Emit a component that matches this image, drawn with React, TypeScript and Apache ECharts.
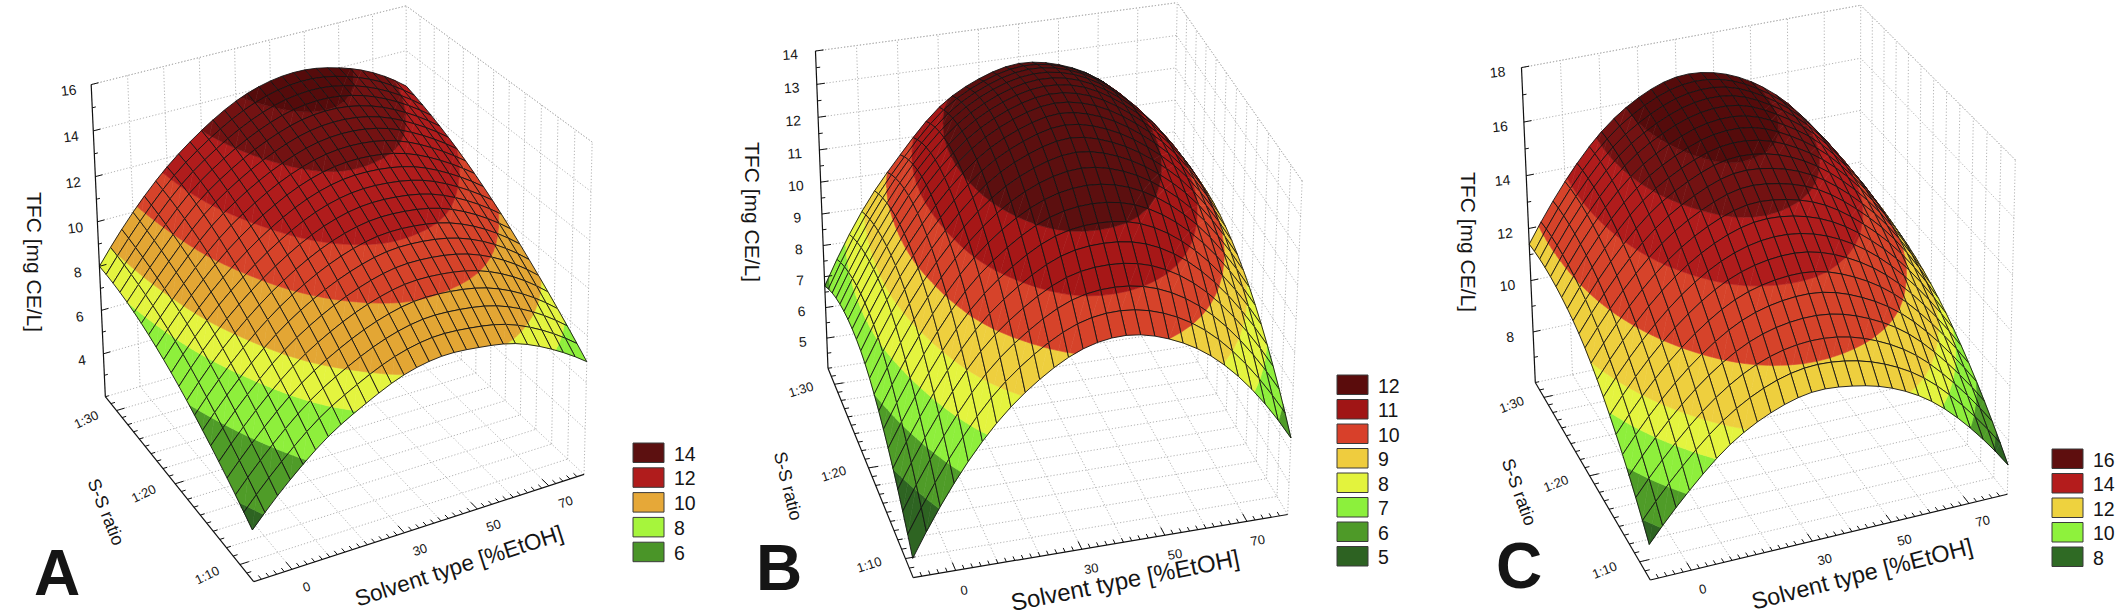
import React, { useEffect, useRef } from "react";
import * as echarts from "echarts";

const CHART_W = 2122;
const CHART_H = 616;
const FONT = "'Liberation Sans', Arial, Helvetica, sans-serif";

// ---------------- data ----------------
const solventLevels = [-10, 0, 10, 20, 30, 40, 50, 60, 70, 80];
const ratioLevels = [8, 14, 20, 26, 32];
const solventTickValues = [0, 30, 50, 70];
const solventTickLabels = ["0", "30", "50", "70"];
const ratioTickValues = [10, 20, 30];
const ratioTickLabels = ["1:10", "1:20", "1:30"];

// TFC readings, rows follow ratioLevels, columns follow solventLevels
const tfcA = [
  [4.2, 5.8, 7.1, 8.0, 8.7, 9.0, 8.9, 8.6, 7.9, 6.9],
  [5.7, 7.4, 8.8, 9.8, 10.5, 10.9, 10.9, 10.6, 9.9, 8.8],
  [6.9, 8.7, 10.1, 11.2, 12.0, 12.4, 12.4, 12.1, 11.4, 10.4],
  [7.7, 9.5, 11.1, 12.2, 13.0, 13.5, 13.6, 13.3, 12.6, 11.6],
  [8.0, 10.0, 11.6, 12.8, 13.7, 14.2, 14.3, 14.0, 13.4, 12.4],
];
const tfcB = [
  [4.6, 6.7, 8.3, 9.4, 10.1, 10.3, 10.0, 9.3, 8.1, 6.4],
  [6.3, 8.4, 10.1, 11.2, 11.9, 12.1, 11.9, 11.2, 10.0, 8.3],
  [7.3, 9.4, 11.0, 12.2, 12.9, 13.2, 12.9, 12.2, 11.1, 9.4],
  [7.4, 9.5, 11.2, 12.4, 13.1, 13.4, 13.2, 12.5, 11.4, 9.7],
  [6.7, 8.9, 10.5, 11.8, 12.5, 12.8, 12.6, 12.0, 10.8, 9.2],
];
const tfcC = [
  [7.3, 8.9, 10.2, 11.0, 11.4, 11.3, 10.9, 10.1, 8.8, 7.1],
  [9.4, 11.1, 12.4, 13.3, 13.7, 13.7, 13.2, 12.3, 10.9, 9.1],
  [10.8, 12.6, 14.0, 14.9, 15.4, 15.3, 14.8, 13.8, 12.4, 10.4],
  [11.4, 13.4, 14.9, 15.8, 16.3, 16.3, 15.7, 14.7, 13.1, 11.0],
  [11.4, 13.5, 15.1, 16.1, 16.6, 16.5, 15.9, 14.8, 13.1, 10.9],
];

const tfcTicksA = [4, 6, 8, 10, 12, 14, 16];
const tfcTicksB = [5, 6, 7, 8, 9, 10, 11, 12, 13, 14];
const tfcTicksC = [8, 10, 12, 14, 16, 18];

const legendLabelsA = ["14", "12", "10", "8", "6"];
const legendLabelsB = ["12", "11", "10", "9", "8", "7", "6", "5"];
const legendLabelsC = ["16", "14", "12", "10", "8"];

// contour band lower limits (first band is everything below the first limit)
const bandFromA = [4.7, 6.4, 7.8, 8.7, 10.2, 11.4, 12.8, 13.8];
const bandFromB = [6, 7, 8, 9, 10, 11, 12];
const bandFromC = [7.8, 8.8, 9.8, 10.6, 12.0, 13.6, 14.9, 15.8];

// ---------------- styles ----------------
const MAROON = "#5c0f0f";
const MAROON_D = "#550b0b";
const MAROON_L = "#731212";
const DKRED = "#a61717";
const RED = "#b01c1c";
const REDOR = "#d6432a";
const ORANGE = "#e3a634";
const GOLD = "#eecf3e";
const YELLOW = "#e4f43f";
const LGREEN = "#8eef3c";
const GREEN = "#4f9c28";
const DGREEN = "#2e6422";

const bandColorsA = [DGREEN, GREEN, LGREEN, YELLOW, ORANGE, REDOR, RED, MAROON_L, MAROON_D];
const bandColorsB = [DGREEN, GREEN, LGREEN, YELLOW, GOLD, REDOR, DKRED, MAROON];
const bandColorsC = [DGREEN, GREEN, LGREEN, YELLOW, GOLD, REDOR, RED, MAROON_L, MAROON_D];

const legendColorsA = ["#5c1010", "#b01c1c", "#e6a838", "#a6f53c", "#4a9528"];
const legendColorsB = ["#5a0c0c", "#a01515", "#d8402a", "#efcc3e", "#e3f33d", "#8cf03c", "#4e9a28", "#2d6222"];
const legendColorsC = ["#5e0e0e", "#b41c1c", "#eed23e", "#8ef23c", "#2f6a24"];

const X_MIN = -10, X_MAX = 80, Y_MIN = 8, Y_MAX = 32;
const SURF_NX = 27, SURF_NY = 20;

type Panel = {
  tfc: number[][];
  zMin: number; zMax: number; zTicks: number[]; zMinor: number;
  bandFrom: number[]; bandColors: string[];
  legendLabels: string[]; legendColors: string[];
  calib: number[][];
  legend: { x: number; y: number; pitch: number };
  zTitle: [number, number]; yTitle: [number, number, number]; xTitle: [number, number, number, number];
  letter: [string, number, number];
};

const panels: Panel[] = [
  {
    tfc: tfcA, zMin: 2, zMax: 16, zTicks: tfcTicksA, zMinor: 1,
    bandFrom: bandFromA, bandColors: bandColorsA,
    legendLabels: legendLabelsA, legendColors: legendColorsA,
    calib: [[0, 0, 0, 258, 583], [0, 1, 0, 104, 393], [0, 1, 1, 90, 87], [1, 0, 0, 582, 477], [1, 0, 1, 590, 138], [1, 1, 1, 410, 7], [0, 1, 8 / 14, 96, 222]],
    legend: { x: 633, y: 443, pitch: 24.8 },
    zTitle: [34, 262], yTitle: [106, 512, -68], xTitle: [459, 566, 18, 22.5],
    letter: ["A", 57, 573],
  },
  {
    tfc: tfcB, zMin: 4, zMax: 14, zTicks: tfcTicksB, zMinor: 0.5,
    bandFrom: bandFromB, bandColors: bandColorsB,
    legendLabels: legendLabelsB, legendColors: legendColorsB,
    calib: [[0, 0, 0, 914, 578], [0, 1, 0, 828, 368], [0, 1, 1, 815, 52], [1, 0, 0, 1287, 515], [1, 0, 1, 1302, 180], [1, 1, 1, 1178, 3], [0, 1, 0.5, 821.6, 213]],
    legend: { x: 1337, y: 375, pitch: 24.5 },
    zTitle: [752, 212], yTitle: [788, 486, -76], xTitle: [1125, 580, 11.3, 24],
    letter: ["B", 779, 568],
  },
  {
    tfc: tfcC, zMin: 6, zMax: 18, zTicks: tfcTicksC, zMinor: 1,
    bandFrom: bandFromC, bandColors: bandColorsC,
    legendLabels: legendLabelsC, legendColors: legendColorsC,
    calib: [[0, 0, 0, 1655, 582], [0, 1, 0, 1534, 378], [0, 1, 1, 1520, 70], [1, 0, 0, 2005, 497], [1, 0, 1, 2013, 155], [1, 1, 1, 1865, 7], [0, 1, 0.5, 1527, 229]],
    legend: { x: 2052, y: 449, pitch: 24.5 },
    zTitle: [1468, 242], yTitle: [1519, 492, -70], xTitle: [1862, 574, 14.3, 23.5],
    letter: ["C", 1519, 566],
  },
];

// ---------------- camera from box corners ----------------
type Cam = { p: number[]; cx: number; cy: number; s: number };

function calibrate(pts: number[][]): Cam {
  let cx = 0, cy = 0;
  pts.forEach((q) => { cx += q[3]; cy += q[4]; });
  cx /= pts.length; cy /= pts.length;
  const s = 200;
  const N = 11;
  const M: number[][] = Array.from({ length: N }, () => new Array(N).fill(0));
  const r: number[] = new Array(N).fill(0);
  const acc = (a: number[], b: number) => {
    for (let i = 0; i < N; i++) {
      r[i] += a[i] * b;
      for (let j = 0; j < N; j++) M[i][j] += a[i] * a[j];
    }
  };
  pts.forEach(([u, v, w, X, Y]) => {
    const x = (X - cx) / s, y = (Y - cy) / s;
    acc([u, v, w, 1, 0, 0, 0, 0, -x * u, -x * v, -x * w], x);
    acc([0, 0, 0, 0, u, v, w, 1, -y * u, -y * v, -y * w], y);
  });
  for (let c = 0; c < N; c++) {
    let piv = c;
    for (let k = c + 1; k < N; k++) if (Math.abs(M[k][c]) > Math.abs(M[piv][c])) piv = k;
    [M[c], M[piv]] = [M[piv], M[c]];
    [r[c], r[piv]] = [r[piv], r[c]];
    for (let k = c + 1; k < N; k++) {
      const f = M[k][c] / M[c][c];
      for (let j = c; j < N; j++) M[k][j] -= f * M[c][j];
      r[k] -= f * r[c];
    }
  }
  const sol = new Array(N).fill(0);
  for (let c = N - 1; c >= 0; c--) {
    let t = r[c];
    for (let j = c + 1; j < N; j++) t -= M[c][j] * sol[j];
    sol[c] = t / M[c][c];
  }
  return { p: [...sol, 1], cx, cy, s };
}

function project(cam: Cam, u: number, v: number, w: number): number[] {
  const p = cam.p;
  const d = p[8] * u + p[9] * v + p[10] * w + p[11];
  const x = (p[0] * u + p[1] * v + p[2] * w + p[3]) / d;
  const y = (p[4] * u + p[5] * v + p[6] * w + p[7]) / d;
  return [cam.cx + x * cam.s, cam.cy + y * cam.s, d];
}

// ---------------- smooth rendering of the read grid ----------------
function catmull(p: number[], s: number): number {
  const n = p.length;
  let i = Math.floor(s);
  if (i > n - 2) i = n - 2;
  if (i < 0) i = 0;
  const t = s - i;
  const get = (k: number) =>
    k < 0 ? 3 * p[0] - 3 * p[1] + p[2] : k > n - 1 ? 3 * p[n - 1] - 3 * p[n - 2] + p[n - 3] : p[k];
  const p0 = get(i - 1), p1 = get(i), p2 = get(i + 1), p3 = get(i + 2);
  return 0.5 * (2 * p1 + (-p0 + p2) * t + (2 * p0 - 5 * p1 + 4 * p2 - p3) * t * t + (-p0 + 3 * p1 - 3 * p2 + p3) * t * t * t);
}

function smoothGrid(rows: number[][], nx: number, ny: number): number[][] {
  const nR = rows.length, nC = rows[0].length;
  const tmp = rows.map((row) => Array.from({ length: nx + 1 }, (_, a) => catmull(row, (a * (nC - 1)) / nx)));
  const out: number[][] = [];
  for (let b = 0; b <= ny; b++) {
    const s = (b * (nR - 1)) / ny;
    const row: number[] = [];
    for (let a = 0; a <= nx; a++) row.push(catmull(tmp.map((t) => t[a]), s));
    out.push(row);
  }
  return out;
}

type VP = { x: number; y: number; v: number };
function clipPoly(poly: VP[], f: (v: number) => number): VP[] {
  const out: VP[] = [];
  for (let i = 0; i < poly.length; i++) {
    const a = poly[i], b = poly[(i + 1) % poly.length];
    const fa = f(a.v), fb = f(b.v);
    if (fa >= 0) out.push(a);
    if ((fa >= 0) !== (fb >= 0)) {
      const t = fa / (fa - fb);
      out.push({ x: a.x + (b.x - a.x) * t, y: a.y + (b.y - a.y) * t, v: a.v + (b.v - a.v) * t });
    }
  }
  return out;
}

function textEl(x: number, y: number, text: string, size: number, rot = 0, weight = "normal", align = "center") {
  return {
    type: "text",
    x, y, rotation: rot, silent: true,
    style: {
      text, fill: "#151515", textFill: "#151515",
      font: `${weight} ${size}px ${FONT}`, fontSize: size, fontFamily: FONT, fontWeight: weight,
      align, textAlign: align, verticalAlign: "middle", textVerticalAlign: "middle",
    },
  };
}

const MESH = "#141414";
const MESH_W = 0.9;

function buildSeries(panel: Panel, idx: number): any[] {
  const cam = calibrate(panel.calib);
  const zr = panel.zMax - panel.zMin;
  const U = (x: number) => (x - X_MIN) / (X_MAX - X_MIN);
  const V = (y: number) => (y - Y_MIN) / (Y_MAX - Y_MIN);
  const Wz = (z: number) => (z - panel.zMin) / zr;

  const zf = smoothGrid(panel.tfc, SURF_NX, SURF_NY);
  const nodes: number[][][] = zf.map((row, b) =>
    row.map((z, a) => project(cam, a / SURF_NX, b / SURF_NY, Wz(z)))
  );
  const cells: number[][] = [];
  for (let j = 0; j < SURF_NY; j++) {
    for (let i = 0; i < SURF_NX; i++) {
      const q = [nodes[j][i], nodes[j][i + 1], nodes[j + 1][i + 1], nodes[j + 1][i]];
      const d = (q[0][2] + q[1][2] + q[2][2] + q[3][2]) / 4;
      const cx = (q[0][0] + q[1][0] + q[2][0] + q[3][0]) / 4;
      const cy = (q[0][1] + q[1][1] + q[2][1] + q[3][1]) / 4;
      cells.push([cx, cy, i, j, d]);
    }
  }
  cells.sort((a, b) => b[4] - a[4]);

  const nb = panel.bandColors.length;
  const bandOf = (v: number) => {
    let k = 0;
    while (k < panel.bandFrom.length && v >= panel.bandFrom[k]) k++;
    return k;
  };
  const lo = (k: number) => (k === 0 ? -Infinity : panel.bandFrom[k - 1]);
  const hi = (k: number) => (k === nb - 1 ? Infinity : panel.bandFrom[k]);

  const surface = {
    type: "custom",
    name: "surface" + idx,
    coordinateSystem: "cartesian2d",
    z: 2,
    clip: false,
    silent: true,
    progressive: 0,
    data: cells.map((c) => [c[0], c[1], c[2], c[3]]),
    encode: { x: 0, y: 1 },
    renderItem: (params: any, api: any) => {
      const i = api.value(2), j = api.value(3);
      const idxs = [[i, j], [i + 1, j], [i + 1, j + 1], [i, j + 1]];
      const pts: VP[] = idxs.map(([a, b]) => {
        const s = api.coord([nodes[b][a][0], nodes[b][a][1]]);
        return { x: s[0], y: s[1], v: zf[b][a] };
      });
      const bands = pts.map((p) => bandOf(p.v));
      const children: any[] = [];
      const bmin = Math.min(...bands), bmax = Math.max(...bands);
      if (bmin === bmax) {
        children.push({
          type: "polygon",
          shape: { points: pts.map((p) => [p.x, p.y]) },
          style: { fill: panel.bandColors[bmin], stroke: MESH, lineWidth: MESH_W },
        });
      } else {
        const tris = [[pts[0], pts[1], pts[2]], [pts[0], pts[2], pts[3]]];
        tris.forEach((tri) => {
          for (let k = bmin; k <= bmax; k++) {
            let poly = clipPoly(tri, (v) => v - lo(k));
            if (poly.length < 3) continue;
            poly = clipPoly(poly, (v) => hi(k) - v);
            if (poly.length < 3) continue;
            children.push({
              type: "polygon",
              shape: { points: poly.map((p) => [p.x, p.y]) },
              style: { fill: panel.bandColors[k], stroke: panel.bandColors[k], lineWidth: 0.6 },
            });
          }
        });
        children.push({
          type: "polygon",
          shape: { points: pts.map((p) => [p.x, p.y]) },
          style: { fill: "none", stroke: MESH, lineWidth: MESH_W },
        });
      }
      return { type: "group", children };
    },
  };

  const zMajor = panel.zTicks;
  const back = {
    type: "custom",
    name: "frame-back" + idx,
    coordinateSystem: "cartesian2d",
    z: 1,
    clip: false,
    silent: true,
    data: [[0, 0]],
    encode: { x: 0, y: 1 },
    renderItem: (params: any, api: any) => {
      const P = (u: number, v: number, w: number) => {
        const s = project(cam, u, v, w);
        return api.coord([s[0], s[1]]);
      };
      const ch: any[] = [];
      const dot = (a: number[], b: number[]) =>
        ch.push({
          type: "line",
          shape: { x1: a[0], y1: a[1], x2: b[0], y2: b[1] },
          style: { stroke: "#b4b4b4", lineWidth: 1, lineDash: [1.2, 2] },
        });
      for (let x = 0; x < X_MAX; x += 10) dot(P(U(x), 0, 0), P(U(x), 1, 0));
      for (let y = 10; y < Y_MAX; y += 2) dot(P(0, V(y), 0), P(1, V(y), 0));
      dot(P(1, 0, 0), P(1, 1, 0));
      dot(P(0, 1, 0), P(1, 1, 0));
      for (let x = 0; x < X_MAX; x += 10) dot(P(U(x), 1, 0), P(U(x), 1, 1));
      zMajor.forEach((z) => dot(P(0, 1, Wz(z)), P(1, 1, Wz(z))));
      dot(P(0, 1, 1), P(1, 1, 1));
      dot(P(1, 1, 0), P(1, 1, 1));
      for (let y = 10; y < Y_MAX; y += 2) dot(P(1, V(y), 0), P(1, V(y), 1));
      zMajor.forEach((z) => dot(P(1, 0, Wz(z)), P(1, 1, Wz(z))));
      dot(P(1, 0, 1), P(1, 1, 1));
      dot(P(1, 0, 0), P(1, 0, 1));
      return { type: "group", children: ch };
    },
  };

  const front = {
    type: "custom",
    name: "frame-front" + idx,
    coordinateSystem: "cartesian2d",
    z: 3,
    clip: false,
    silent: true,
    data: [[0, 0]],
    encode: { x: 0, y: 1 },
    renderItem: (params: any, api: any) => {
      const P = (u: number, v: number, w: number) => {
        const s = project(cam, u, v, w);
        return api.coord([s[0], s[1]]);
      };
      const ch: any[] = [];
      const ln = (a: number[], b: number[], wdt = 1.1) =>
        ch.push({
          type: "line",
          shape: { x1: a[0], y1: a[1], x2: b[0], y2: b[1] },
          style: { stroke: "#111", lineWidth: wdt },
        });
      const ang = (u: number, v: number, w: number) => {
        const a = P(u, v, w), b = P(u + 0.05, v, w);
        return Math.atan2(-(b[1] - a[1]), b[0] - a[0]);
      };
      ln(P(0, 1, 0), P(0, 1, 1), 1.2);
      ln(P(0, 0, 0), P(0, 1, 0), 1.2);
      ln(P(0, 0, 0), P(1, 0, 0), 1.2);
      for (let z = panel.zMin; z <= panel.zMax + 1e-9; z += panel.zMinor) {
        const isMajor = zMajor.some((t) => Math.abs(t - z) < 1e-6);
        ln(P(0, 1, Wz(z)), P(isMajor ? 0.022 : 0.011, 1, Wz(z)), 1);
      }
      zMajor.forEach((z) => {
        const p = P(-0.068, 1, Wz(z));
        ch.push(textEl(p[0], p[1], String(z), 14, ang(0, 1, Wz(z)) * 0.5));
      });
      for (let y = Y_MIN + 1; y < Y_MAX; y += 1) {
        const isMajor = ratioTickValues.includes(y);
        ln(P(0, V(y), 0), P(isMajor ? 0.026 : 0.013, V(y), 0), 1);
      }
      ratioTickValues.forEach((y, k) => {
        const p = P(-0.095, V(y), 0);
        ch.push(textEl(p[0], p[1], ratioTickLabels[k], 13, ang(0, V(y), 0) + 0.15));
      });
      for (let x = X_MIN + 2; x < X_MAX; x += 2) {
        const isMajor = solventTickValues.includes(x);
        ln(P(U(x), 0, 0), P(U(x), isMajor ? 0.035 : 0.018, 0), 1);
      }
      solventTickValues.forEach((x, k) => {
        const p = P(U(x), -0.085, 0);
        ch.push(textEl(p[0], p[1], solventTickLabels[k], 13, ang(U(x), 0, 0)));
      });
      return { type: "group", children: ch };
    },
  };

  return [back, surface, front];
}

function buildGraphic(): any[] {
  const els: any[] = [];
  panels.forEach((pn) => {
    pn.legendLabels.forEach((lab, k) => {
      const y = pn.legend.y + k * pn.legend.pitch;
      els.push({
        type: "rect",
        shape: { x: pn.legend.x, y, width: 31, height: 19.5 },
        style: { fill: pn.legendColors[k], stroke: "#3a3a3a", lineWidth: 1 },
        silent: true,
      });
      els.push(textEl(pn.legend.x + 41, y + 10.5, lab, 19.5, 0, "normal", "left"));
    });
    els.push(textEl(pn.zTitle[0], pn.zTitle[1], "TFC [mg CE/L]", 21, -Math.PI / 2));
    els.push(textEl(pn.yTitle[0], pn.yTitle[1], "S-S ratio", 18, (pn.yTitle[2] * Math.PI) / 180));
    els.push(textEl(pn.xTitle[0], pn.xTitle[1], "Solvent type [%EtOH]", pn.xTitle[3], (pn.xTitle[2] * Math.PI) / 180));
    els.push(textEl(pn.letter[1], pn.letter[2], pn.letter[0], 64, 0, "bold"));
  });
  return els;
}

export default function App() {
  const ref = useRef<HTMLDivElement>(null);
  useEffect(() => {
    if (!ref.current) return;
    const chart = echarts.init(ref.current, undefined, { renderer: "svg", width: CHART_W, height: CHART_H });
    const series: any[] = [];
    panels.forEach((p, i) => series.push(...buildSeries(p, i)));
    chart.setOption({
      animation: false,
      backgroundColor: "#ffffff",
      grid: { left: 0, top: 0, width: CHART_W, height: CHART_H, containLabel: false },
      xAxis: { type: "value", min: 0, max: CHART_W, show: false },
      yAxis: { type: "value", min: 0, max: CHART_H, inverse: true, show: false },
      series,
      graphic: { elements: buildGraphic() },
    });
    return () => chart.dispose();
  }, []);
  return (
    <div
      ref={ref}
      style={{ position: "absolute", left: 0, top: 0, width: CHART_W + "px", height: CHART_H + "px", background: "#fff" }}
    />
  );
}
